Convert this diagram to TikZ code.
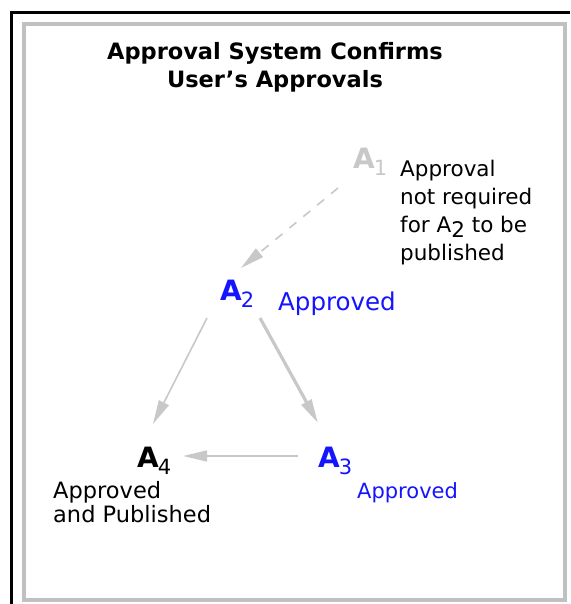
\documentclass[tikz,border=0pt]{standalone}
\usepackage{fontspec}
\setmainfont{DejaVu Sans}
\usepackage{tikz}
\usetikzlibrary{arrows.meta, positioning}
\definecolor{arrgray}{RGB}{200,200,200}
\definecolor{framegray}{RGB}{192,192,192}
\definecolor{apblue}{RGB}{20,20,255}
\newcommand{\Asub}[1]{A\kern-1pt\raisebox{-7pt}{\fontsize{21}{21}\selectfont\mdseries #1}}
\tikzset{
  apnode/.style={inner sep=0pt,anchor=base west,font=\fontsize{28}{28}\selectfont\bfseries},
  notetext/.style={inner sep=0pt,anchor=north west,align=left,font=\fontsize{21.5}{28}\selectfont},
  arr/.style={-{Triangle[length=24pt,width=11pt]},line width=1.6pt,color=arrgray},
  thickarr/.style={arr,line width=3.2pt},
  dasharr/.style={arr,dash pattern=on 9pt off 9pt}
}
\begin{document}
\begin{tikzpicture}[x=1pt,y=-1pt]
  \useasboundingbox (0,0) rectangle (570,604);
  % frame
  \draw[line width=3pt] (11.5,604) |- (570,12.5);
  \draw[framegray,line width=4pt] (24,24) rectangle (565,600);
  % title
  \node[inner sep=0pt,anchor=north,align=center,font=\fontsize{22.5}{28}\selectfont\bfseries]
    (title) at (275,42) {Approval System Confirms\\User's Approvals};
  % approvals
  \node[apnode,color=arrgray] (a1) at (353,168) {\Asub{1}};
  \node[apnode,color=apblue] (a2) at (220,300) {\Asub{2}};
  \node[apnode,color=apblue] (a3) at (318,467) {\Asub{3}};
  \node[apnode] (a4) at (137,467) {\Asub{4}};
  % notes
  \node[notetext] (n1) at (400,160)
    {Approval\\not required\\for A\raisebox{-5pt}{2} to be\\published};
  \node[inner sep=0pt,anchor=base west,color=apblue,font=\fontsize{24.5}{24.5}\selectfont]
    (n2) at (278,310) {Approved};
  \node[inner sep=0pt,anchor=base west,color=apblue,font=\fontsize{21}{21}\selectfont]
    (n3) at (357,498) {Approved};
  \node[notetext,font=\fontsize{22.5}{24}\selectfont] (n4) at (53,481)
    {Approved\\and Published};
  % connectors
  \draw[dasharr] ([shift={(-15,20)}]a1.base west) -- ([shift={(21,-32)}]a2.base west);
  \draw[arr] ([shift={(-13,18)}]a2.base west) -- ([shift={(16,-43)}]a4.base west);
  \draw[thickarr] ([shift={(40,18)}]a2.base west) -- ([shift={(0,-44)}]a3.base west);
  \draw[arr] ([shift={(-20,-11)}]a3.base west) -- ([shift={(46,-11)}]a4.base west);
\end{tikzpicture}
\end{document}
